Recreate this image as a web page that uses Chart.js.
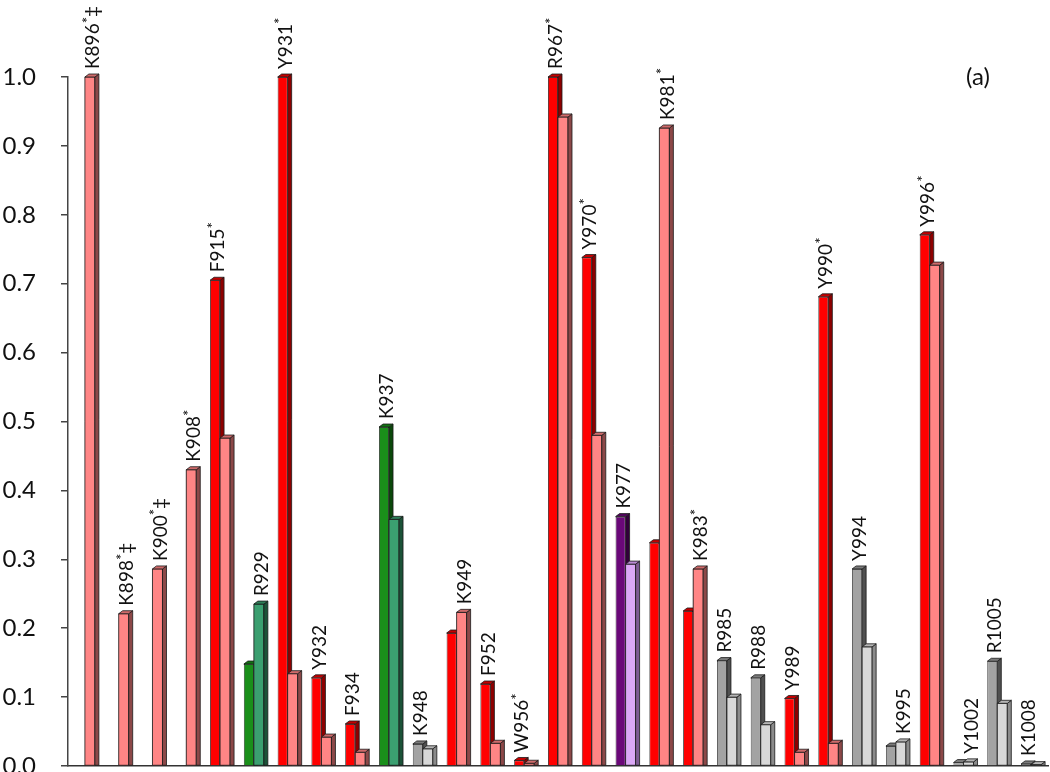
<!DOCTYPE html>
<html>
<head>
<meta charset="utf-8">
<script src="https://cdn.jsdelivr.net/npm/chart.js@4"></script>
<style>
  html, body { margin: 0; background: #fff; }
</style>
</head>
<body>
<canvas id="chart" width="1050" height="772"></canvas>
<script>
// residue labels, one group of two bars each
const categories = ['K896*‡','K898*‡','K900*‡','K908*','F915*','R929','Y931*','Y932','F934','K937',
  'K948','K949','F952','W956*','R967*','Y970*','K977','K981*','K983*','R985',
  'R988','Y989','Y990*','Y994','K995','Y996*','Y1002','R1005','K1008'];

// first (darker) bar of each group
const seriesA = [0, 0, 0, 0, 0.705, 0.148, 1.0, 0.128, 0.061, 0.492,
  0.032, 0.193, 0.119, 0.008, 1.0, 0.738, 0.362, 0.324, 0.225, 0.153,
  0.128, 0.098, 0.681, 0.286, 0.029, 0.771, 0.005, 0.152, 0.003];

// second (lighter) bar of each group
const seriesB = [1.0, 0.221, 0.286, 0.43, 0.476, 0.235, 0.134, 0.042, 0.02, 0.358,
  0.025, 0.223, 0.033, 0.004, 0.942, 0.48, 0.293, 0.926, 0.286, 0.1,
  0.06, 0.02, 0.033, 0.173, 0.035, 0.727, 0.006, 0.091, 0.002];

// colour family of each group
const kinds = ['red','red','red','red','red','green','red','red','red','green',
  'gray','red','red','red','red','red','purple','red','red','gray',
  'gray','red','red','gray','gray','red','gray','gray','gray'];

const yTicks = [0, 0.1, 0.2, 0.3, 0.4, 0.5, 0.6, 0.7, 0.8, 0.9, 1.0];

// front, side, top shades
const palette = {
  red:    { a: ['#ff0000','#8e0000','#c40000'], b: ['#ff8585','#8c4848','#cf6a6a'] },
  green:  { a: ['#1a8f1a','#0b480b','#127212'], b: ['#3b9f70','#1c5238','#2d7e58'] },
  purple: { a: ['#6a0878','#32003a','#50055c'], b: ['#dba8f6','#7d5b93','#b98ad3'] },
  gray:   { a: ['#a3a3a3','#505050','#7c7c7c'], b: ['#d8d8d8','#8b8b8b','#b5b5b5'] }
};

const DEPTH = 4, RISE = 3;

function poly(ctx, pts, fill){
  ctx.beginPath();
  ctx.moveTo(pts[0][0], pts[0][1]);
  for(let i=1;i<pts.length;i++) ctx.lineTo(pts[i][0], pts[i][1]);
  ctx.closePath();
  ctx.fillStyle = fill;
  ctx.fill();
  ctx.stroke();
}

function drawFaces(ctx, el, shades, redrawFront){
  const w = el.width, x0 = el.x - w/2, x1 = el.x + w/2, y = el.y, b = el.base;
  if(redrawFront) poly(ctx, [[x0,y],[x1,y],[x1,b],[x0,b]], shades[0]);
  poly(ctx, [[x1,y],[x1+DEPTH,y-RISE],[x1+DEPTH,b],[x1,b]], shades[1]);
  poly(ctx, [[x0,y],[x0+DEPTH,y-RISE],[x1+DEPTH,y-RISE],[x1,y]], shades[2]);
}

const bar3d = {
  id: 'bar3d',
  afterDatasetsDraw(chart){
    const ctx = chart.ctx;
    const metaA = chart.getDatasetMeta(0), metaB = chart.getDatasetMeta(1);
    ctx.save();
    ctx.strokeStyle = '#1a1a1a';
    ctx.lineWidth = 0.8;
    ctx.lineJoin = 'round';
    categories.forEach((c, i) => {
      const pal = palette[kinds[i]];
      if(seriesA[i] > 0) drawFaces(ctx, metaA.data[i], pal.a, false);
      if(seriesB[i] > 0) drawFaces(ctx, metaB.data[i], pal.b, true);
    });
    ctx.restore();
  }
};

function drawLabel(ctx, text, x, y){
  // rotated text, asterisks drawn as superscript
  ctx.save();
  ctx.translate(x, y);
  ctx.rotate(-Math.PI/2);
  ctx.fillStyle = '#111';
  ctx.textBaseline = 'middle';
  ctx.textAlign = 'left';
  let pos = 0;
  for(const ch of text){
    if(ch === '*'){
      ctx.font = '15px Lato';
      ctx.fillText(ch, pos, -5);
    } else {
      ctx.font = '19px Lato';
      ctx.fillText(ch, pos, 0);
    }
    pos += ctx.measureText(ch).width;
  }
  ctx.restore();
}

const annotate = {
  id: 'annotate',
  afterDraw(chart){
    const ctx = chart.ctx;
    const metaA = chart.getDatasetMeta(0), metaB = chart.getDatasetMeta(1);
    categories.forEach((c, i) => {
      const el = seriesA[i] >= seriesB[i] ? metaA.data[i] : metaB.data[i];
      drawLabel(ctx, c, el.x + 3, el.y - 8);
    });
    ctx.save();
    ctx.font = '24px Lato';
    ctx.fillStyle = '#111';
    ctx.textAlign = 'center';
    ctx.textBaseline = 'middle';
    ctx.fillText('(a)', chart.chartArea.right - 70, chart.chartArea.top);
    ctx.restore();
  }
};

new Chart(document.getElementById('chart'), {
  type: 'bar',
  data: {
    labels: categories,
    datasets: [
      { data: seriesA, backgroundColor: kinds.map(k => palette[k].a[0]), borderColor: '#1a1a1a', borderWidth: 0.8 },
      { data: seriesB, backgroundColor: kinds.map(k => palette[k].b[0]), borderColor: '#1a1a1a', borderWidth: 0.8 }
    ]
  },
  options: {
    responsive: false,
    animation: false,
    devicePixelRatio: 1,
    layout: { padding: { top: 77, bottom: 6, left: 0, right: 2 } },
    datasets: { bar: { categoryPercentage: 0.592, barPercentage: 1 } },
    plugins: { legend: { display: false }, tooltip: { enabled: false } },
    scales: {
      x: {
        afterFit(s){ s.height = 0; },
        ticks: { display: false },
        grid: { display: false },
        border: { display: true, color: '#333', width: 1.5 }
      },
      y: {
        min: 0, max: 1,
        afterBuildTicks(s){ s.ticks = yTicks.map(v => ({ value: v })); },
        // fixed axis width; drop the tick padding that fit() adds above and below
        afterFit(s){ s.width = 68; s.paddingTop = 0; s.paddingBottom = 0; },
        ticks: { callback: v => Number(v).toFixed(1), font: { family: 'Lato', size: 24 }, color: '#111', padding: 25 },
        grid: { drawOnChartArea: false, tickLength: 7, color: '#444', lineWidth: 1.5 },
        border: { display: true, color: '#444', width: 1.5 }
      }
    }
  },
  plugins: [bar3d, annotate]
});
</script>
</body>
</html>
